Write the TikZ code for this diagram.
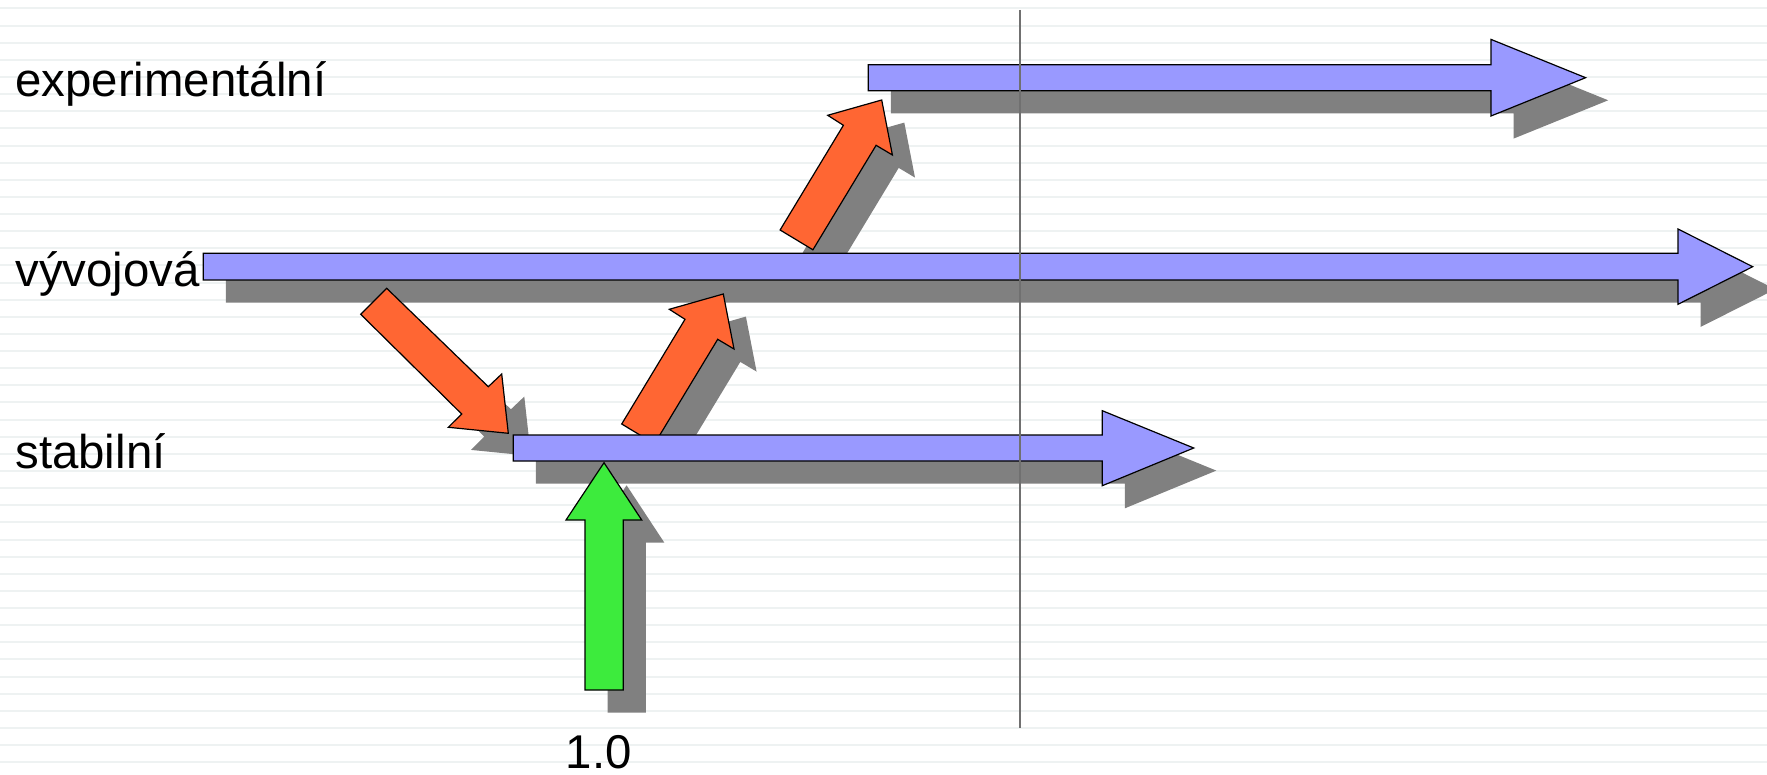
\documentclass[tikz,border=0pt]{standalone}
\usepackage{fontspec}
\setmainfont{Liberation Sans}
\pgfdeclarelayer{ruling}
\pgfdeclarelayer{shade}
\pgfdeclarelayer{front}
\pgfsetlayers{ruling,shade,main,front}
\definecolor{barblue}{HTML}{9999FF}
\definecolor{forkorange}{HTML}{FF6633}
\definecolor{releasegreen}{HTML}{3DEB3D}
\definecolor{shadowgray}{HTML}{808080}
\definecolor{ruleline}{HTML}{EEF2F2}
\definecolor{markline}{HTML}{707070}
% a filled outline with its drop shadow on the shade layer
\newcommand\castshape[2]{%
  \begin{pgfonlayer}{shade}
    \fill[shadowgray, shift={(22.6,22.6)}] #2;
  \end{pgfonlayer}
  \draw[#1] #2;}
\begin{document}
\begin{tikzpicture}[x=0.5pt, y=-0.5pt,
    outline/.style={draw=black, line width=0.6pt, line join=miter},
    branchbar/.style={outline, fill=barblue},
    forkarrow/.style={outline, fill=forkorange},
    releasearrow/.style={outline, fill=releasegreen},
    labeltext/.style={inner sep=0pt, font=\fontsize{23.7}{28}\selectfont},
    lane/.style={labeltext, anchor=base west}]
  \useasboundingbox (0,0) rectangle (1767,775);

  % ruled background
  \begin{pgfonlayer}{ruling}
    \foreach \k in {0,...,44}
      \draw[ruleline, line width=1pt] (0,8.5+\k*17.13) -- (1767,8.5+\k*17.13);
  \end{pgfonlayer}

  % branching arrows
  \castshape{forkarrow}{(386.7,288.3) -- (488.3,386.7) -- (501.7,374) -- (508.3,433.3)
      -- (448.3,427.3) -- (461.7,414) -- (360.7,314.3) -- cycle}
  \castshape{forkarrow}{(621.7,424) -- (685,319.3) -- (669.3,309.3) -- (723.3,294)
      -- (734,349) -- (717.7,339.3) -- (654.5,443.8) -- cycle}
  \castshape{forkarrow}{(780.1,230) -- (843.4,125.3) -- (827.7,115.3) -- (881.7,100)
      -- (892.4,155) -- (876.1,145.3) -- (812.9,249.8) -- cycle}

  % branch timelines
  \castshape{branchbar}{(868.3,64.7) -- (1491,64.7) -- (1491,39.4) -- (1585.6,77.7)
      -- (1491,116) -- (1491,90.7) -- (868.3,90.7) -- cycle}
  \castshape{branchbar}{(203.3,253.3) -- (1678,253.3) -- (1678,229) -- (1752.7,266.7)
      -- (1678,304.3) -- (1678,280) -- (203.3,280) -- cycle}
  \castshape{branchbar}{(513.3,435) -- (1102.3,435) -- (1102.3,410.7) -- (1193.7,448)
      -- (1102.3,485.7) -- (1102.3,461) -- (513.3,461) -- cycle}

  % release arrow
  \castshape{releasearrow}{(604,462.7) -- (641.7,520) -- (623.3,520) -- (623.3,690)
      -- (585,690) -- (585,520) -- (566,520) -- cycle}

  % current-time marker
  \begin{pgfonlayer}{front}
    \coordinate (marktop) at (1019.8,10);
    \coordinate (markbot) at (1019.8,728);
    \draw[markline, line width=1pt] (marktop) -- (markbot);
  \end{pgfonlayer}

  % lane labels
  \node[lane] (lexp) at (15,96.7) {experimentální};
  \node[lane] (ldev) at (15,286.7) {vývojová};
  \node[lane] (lstab) at (15,468.3) {stabilní};
  \node[labeltext, anchor=base] (lver) at (598.8,768.5) {1.0};
\end{tikzpicture}
\end{document}
